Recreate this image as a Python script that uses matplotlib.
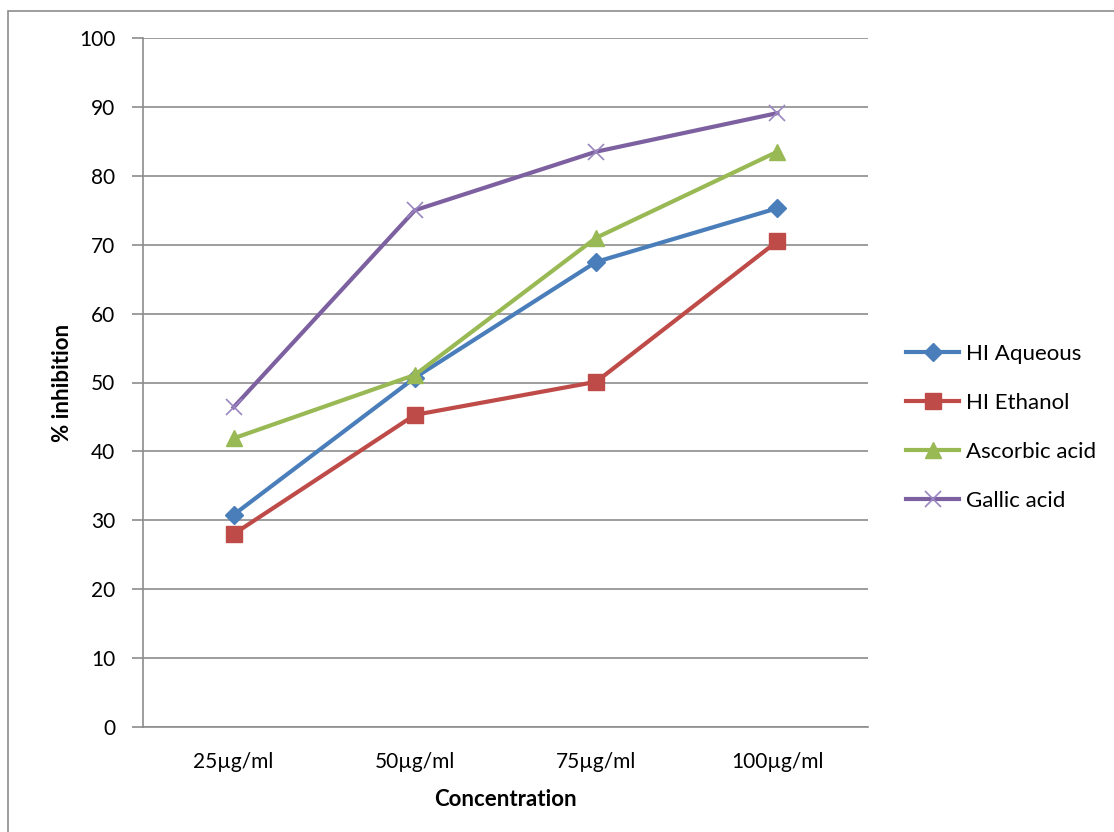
import matplotlib
matplotlib.use('Agg')
import matplotlib.pyplot as plt
import numpy as np
from matplotlib.patches import Rectangle

# Data
categories = ['25µg/ml', '50µg/ml', '75µg/ml', '100µg/ml']
hi_aqueous = [30.8, 50.7, 67.5, 75.3]
hi_ethanol = [28.0, 45.3, 50.1, 70.5]
ascorbic_acid = [41.9, 51.1, 71.0, 83.5]
gallic_acid = [46.4, 75.0, 83.5, 89.1]

series = [
    ('HI Aqueous', hi_aqueous, '#4A7EBB', 'D', 9),
    ('HI Ethanol', hi_ethanol, '#BE4B48', 's', 11),
    ('Ascorbic acid', ascorbic_acid, '#98B954', '^', 11),
    ('Gallic acid', gallic_acid, '#7D60A0', 'x', 11),
]

plt.rcParams['font.family'] = ['Lato', 'DejaVu Sans']

fig = plt.figure(figsize=(11.14, 8.32), dpi=100)
ax = fig.add_axes([143 / 1114, 1 - 727 / 832, (868 - 143) / 1114, (727 - 38) / 832])

# Outer chart border
fig.patches.append(Rectangle((8 / 1114, -0.05), 1.1, 1 - 11 / 832 + 0.05,
                             transform=fig.transFigure, fill=False,
                             edgecolor='#8c8c8c', linewidth=1.2))

x = np.arange(len(categories))
for name, vals, color, marker, ms in series:
    if marker == 'x':
        ax.plot(x, vals, color=color, linewidth=3, marker=marker, markersize=ms,
                markeredgewidth=1.2, markeredgecolor='#9a86c0', label=name)
    else:
        ax.plot(x, vals, color=color, linewidth=3, marker=marker, markersize=ms,
                markeredgecolor=color, label=name)

ax.set_xlim(-0.5, 3.5)
ax.set_ylim(0, 100)
ax.set_yticks(np.arange(0, 101, 10))
ax.set_xticks(x)
ax.set_xticklabels(categories)
ax.tick_params(axis='x', length=0, pad=18, labelsize=15)
ax.tick_params(axis='y', length=8, color='#8c8c8c', width=1.2, pad=12, labelsize=15)

ax.grid(axis='y', color='#8c8c8c', linewidth=1.2)
ax.set_axisbelow(True)
for side in ['top', 'right']:
    ax.spines[side].set_visible(False)
for side in ['left', 'bottom']:
    ax.spines[side].set_color('#8c8c8c')
    ax.spines[side].set_linewidth(1.2)

ax.set_xlabel('Concentration', fontsize=16, fontweight='bold', labelpad=12)
ax.set_ylabel('% inhibition', fontsize=16, fontweight='bold', labelpad=4)

ax.legend(loc='center left', bbox_to_anchor=(1.025, 0.435), frameon=False,
          fontsize=16, handlelength=2.4, labelspacing=1.3, handletextpad=0.3)

plt.savefig('out.png', dpi=100)
plt.close()
